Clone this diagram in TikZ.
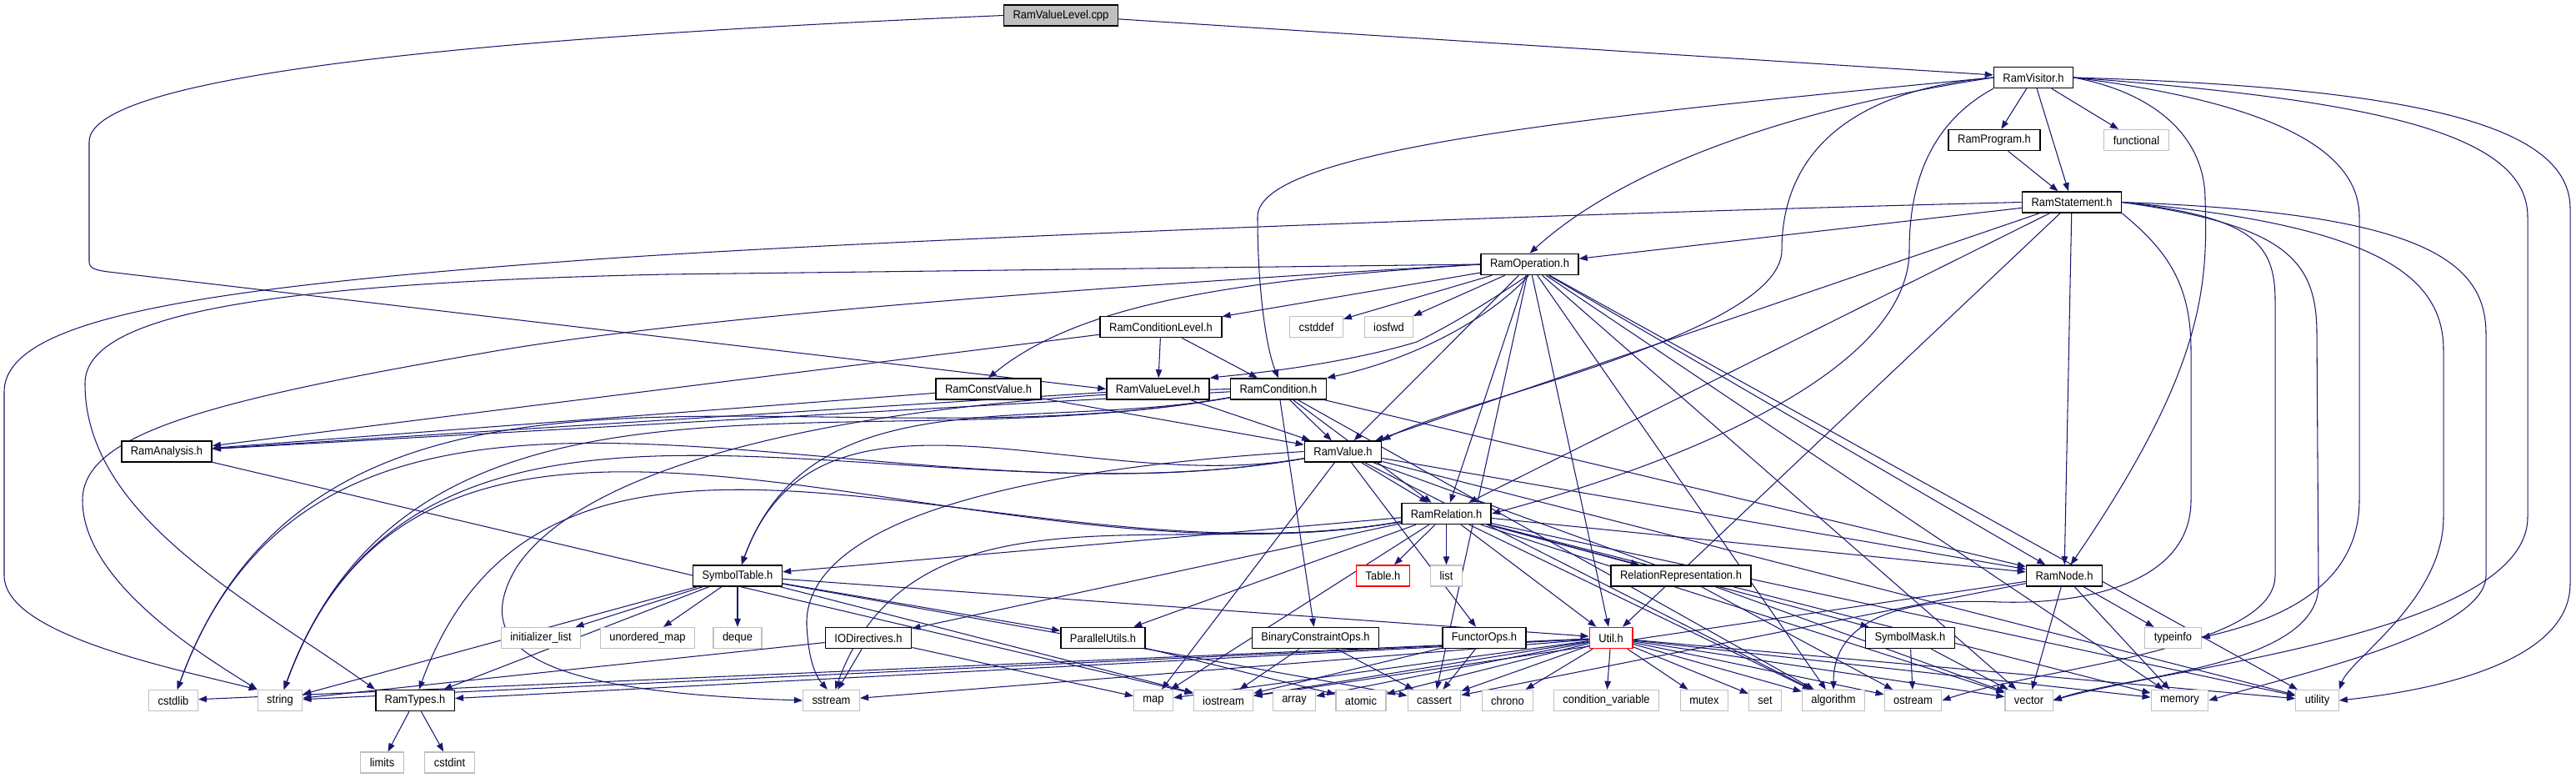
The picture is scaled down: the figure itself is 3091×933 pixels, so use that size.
\documentclass[tikz,border=0pt]{standalone}
\usepackage{fontspec}
\setmainfont{Liberation Sans}[FakeStretch=0.92]
\usetikzlibrary{arrows.meta,backgrounds}
\definecolor{edgeBlue}{HTML}{191970}
\definecolor{sysGrey}{HTML}{BFBFBF}
\definecolor{rootGrey}{HTML}{BFBFBF}
\newcommand{\nodefont}{\fontsize{8}{9}\selectfont}

\begin{document}
\begin{tikzpicture}[x=0.02cm, y=-0.02cm,
  hdr/.style={rectangle,draw=black,line width=0.9pt,fill=white,font=\nodefont,
    inner xsep=0.22cm,inner ysep=0pt,minimum height=0.5cm},
  sys/.style={hdr,draw=sysGrey,line width=0.7pt},
  trunc/.style={hdr,draw=red},
  root/.style={hdr,fill=rootGrey},
  inc/.style={draw=edgeBlue,line width=0.6pt,-{Triangle[length=2mm,width=1.5mm]}},
  swoop/.style={out=190,in=70}
]
\useasboundingbox (0,0) rectangle (3091,933);

\node[root] (cpp) at (1273,18.5) {RamValueLevel.cpp};
\foreach \n/\x/\y/\t in {
  visitor/2440/93/RamVisitor.h, program/2393/168/RamProgram.h,
  statement/2486/242.5/RamStatement.h, operation/1835.5/317/RamOperation.h,
  condlevel/1393/392/RamConditionLevel.h, constvalue/1186/466.5/RamConstValue.h,
  valuelevel/1389.5/466.5/RamValueLevel.h, condition/1534/466.5/RamCondition.h,
  analysis/200/541.5/RamAnalysis.h, value/1611.5/541.5/RamValue.h,
  relation/1735.5/616/RamRelation.h, symtab/885/690.5/SymbolTable.h,
  relrep/2017/690.5/RelationRepresentation.h, ramnode/2477/690.5/RamNode.h,
  iodir/1042/765/IODirectives.h, parutil/1323.5/765/ParallelUtils.h,
  binops/1578.5/765/BinaryConstraintOps.h, functor/1781/765/FunctorOps.h,
  symmask/2292/765/SymbolMask.h, ramtypes/498/840/RamTypes.h}
  \node[hdr] (\n) at (\x,\y) {\t};
\foreach \n/\x/\y/\t in {table/1659.5/690.5/Table.h, util/1933/765/Util.h}
  \node[trunc] (\n) at (\x,\y) {\t};
\foreach \n/\x/\y/\t in {
  functional/2563.5/168/functional, cstddef/1579.5/392/cstddef, iosfwd/1666.5/392/iosfwd,
  list/1735.5/690.5/list, initlist/649/765/initializer\_list,
  unordmap/777/765/unordered\_map, deque/885/765/deque, typeinfo/2607.5/765/typeinfo,
  cstdlib/208/840/cstdlib, string/336/840/string, sstream/997.5/840/sstream,
  map/1384/840/map, iostream/1468/840/iostream, array/1553/840/array,
  atomic/1633/840/atomic, cassert/1721/840/cassert, chrono/1809/840/chrono,
  condvar/1927.5/840/condition\_variable, mutex/2045/840/mutex, set/2118/840/set,
  algorithm/2200/840/algorithm, ostream/2295.5/840/ostream, vector/2434.5/840/vector,
  memory/2615.5/840/memory, utility/2780.5/840/utility,
  limits/458.5/914.5/limits, cstdint/539.5/914.5/cstdint}
  \node[sys] (\n) at (\x,\y) {\t};

\begin{pgfonlayer}{background}
% straight includes
\foreach \a/\b in {
  cpp/visitor, visitor/program, visitor/functional, visitor/statement, program/statement,
  statement/operation, statement/value, statement/relation, statement/ramnode, statement/util,
  operation/condlevel, operation/cstddef, operation/iosfwd,
  operation/value, operation/relation, operation/ramnode, operation/util,
  operation/cassert, operation/algorithm, operation/vector, operation/memory, operation/utility,
  condlevel/analysis, condlevel/condition, condlevel/valuelevel,
  constvalue/analysis, constvalue/value, valuelevel/analysis, valuelevel/value,
  condition/analysis, condition/value, condition/relation, condition/ramnode,
  condition/binops, condition/algorithm,
  value/relation, value/ramnode, value/functor, value/map, value/utility, value/vector,
  value/algorithm,
  relation/table, relation/list, relation/relrep, relation/util, relation/iodir,
  relation/parutil, relation/symtab, relation/symmask, relation/ramnode, relation/map,
  relation/utility, relation/vector, relation/algorithm, relation/memory,
  symtab/initlist, symtab/unordmap, symtab/deque, symtab/string, symtab/ramtypes,
  symtab/util, symtab/parutil, symtab/iostream, symtab/cassert,
  analysis/iostream, iodir/sstream, iodir/map, iodir/string, parutil/atomic,
  binops/cassert, binops/iostream, functor/cassert, functor/iostream, relrep/ostream,
  symmask/ostream, symmask/vector,
  ramnode/typeinfo, ramnode/memory, ramnode/vector, ramnode/iostream, ramnode/cassert,
  util/cstdlib, util/string, util/ramtypes, util/sstream, util/map, util/iostream,
  util/array, util/atomic, util/cassert, util/chrono, util/condvar, util/mutex, util/set,
  util/algorithm, util/ostream, util/vector, util/memory, util/utility,
  ramtypes/limits, ramtypes/cstdint}
  \draw[inc] (\a) -- (\b);
% sweeping includes to the lower left
\foreach \a/\b in {
  condition/cstdlib, condition/string, condition/symtab,
  value/cstdlib, value/string, value/symtab,
  relation/string, relation/ramtypes, relation/sstream}
  \draw[inc] (\a) to[swoop] (\b);
% long routed includes
\draw[inc] (cpp.west) .. controls (700,40) and (107,80) .. (107,170) -- (107,314)
  .. controls (107,322) and (115,324) .. (130,326) -- (valuelevel.west);
\draw[inc] (statement.west) .. controls (1800,258) and (1000,290) .. (700,312)
  .. controls (250,345) and (5,380) .. (5,470) -- (5,690)
  .. controls (5,760) and (200,800) .. (string.north west);
\draw[inc] (operation.west) -- (800,329) .. controls (300,340) and (102,380) .. (102,460)
  .. controls (102,620) and (300,720) .. (ramtypes.north west);
\draw[inc] (operation.west) .. controls (1500,333) and (900,370) .. (600,420)
  .. controls (250,480) and (99,520) .. (99,600)
  .. controls (99,700) and (250,790) .. (string.north west);
\draw[inc] (operation.west) .. controls (1500,335) and (1300,360) .. (constvalue.north);
\draw[inc] (operation.260) .. controls (1760,380) and (1720,400) .. (1700,410)
  .. controls (1600,440) and (1480,450) .. (valuelevel.north east);
\draw[inc] (operation.265) .. controls (1790,380) and (1700,430) .. (condition.north east);
\draw[inc] (value.west) .. controls (1100,570) and (965,660) .. (968,750)
  .. controls (970,790) and (978,810) .. (sstream.110);
\draw[inc] (condition.west) .. controls (1000,480) and (700,560) .. (620,680)
  .. controls (560,780) and (650,830) .. (sstream.west);
\draw[inc] (visitor.west) .. controls (1900,140) and (1509,180) .. (1509,260)
  .. controls (1509,350) and (1520,420) .. (condition.north);
\draw[inc] (visitor.west) .. controls (2150,130) and (1950,200) .. (operation.north);
\draw[inc] (visitor.west) .. controls (2200,110) and (2138,200) .. (2138,300)
  .. controls (2138,400) and (1750,480) .. (value.north east);
\draw[inc] (visitor.south west) .. controls (2330,140) and (2291,200) .. (2291,300)
  .. controls (2291,450) and (2000,560) .. (relation.east);
\draw[inc] (visitor.east) .. controls (2580,110) and (2646,160) .. (2646,240)
  .. controls (2650,350) and (2640,450) .. (ramnode.60);
\draw[inc] (visitor.east) .. controls (2700,120) and (2831,170) .. (2831,260) -- (2831,600)
  .. controls (2831,720) and (2700,750) .. (typeinfo.east);
\draw[inc] (visitor.east) .. controls (2850,120) and (3033,160) .. (3033,260) -- (3033,620)
  .. controls (3033,760) and (2600,800) .. (vector.east);
\draw[inc] (visitor.east) .. controls (2900,105) and (3084,150) .. (3084,250) -- (3084,700)
  .. controls (3084,800) and (2900,830) .. (utility.east);
\draw[inc] (statement.south east) .. controls (2600,300) and (2629,340) .. (2629,420)
  -- (2629,600) .. controls (2629,700) and (2500,725) .. (2400,722)
  .. controls (2250,715) and (2200,760) .. (algorithm.north);
\draw[inc] (statement.east) .. controls (2700,260) and (2730,290) .. (2730,360) -- (2730,690)
  .. controls (2730,780) and (2450,800) .. (ostream.east);
\draw[inc] (statement.east) .. controls (2740,270) and (2780,310) .. (2780,400) -- (2782,700)
  .. controls (2785,800) and (2550,810) .. (vector.east);
\draw[inc] (statement.east) .. controls (2850,270) and (2932,330) .. (2932,420) -- (2932,620)
  .. controls (2932,720) and (2820,790) .. (utility.north east);
\draw[inc] (statement.east) .. controls (2900,255) and (2983,310) .. (2983,400) -- (2983,690)
  .. controls (2983,760) and (2750,810) .. (memory.east);
\end{pgfonlayer}
\end{tikzpicture}
\end{document}
